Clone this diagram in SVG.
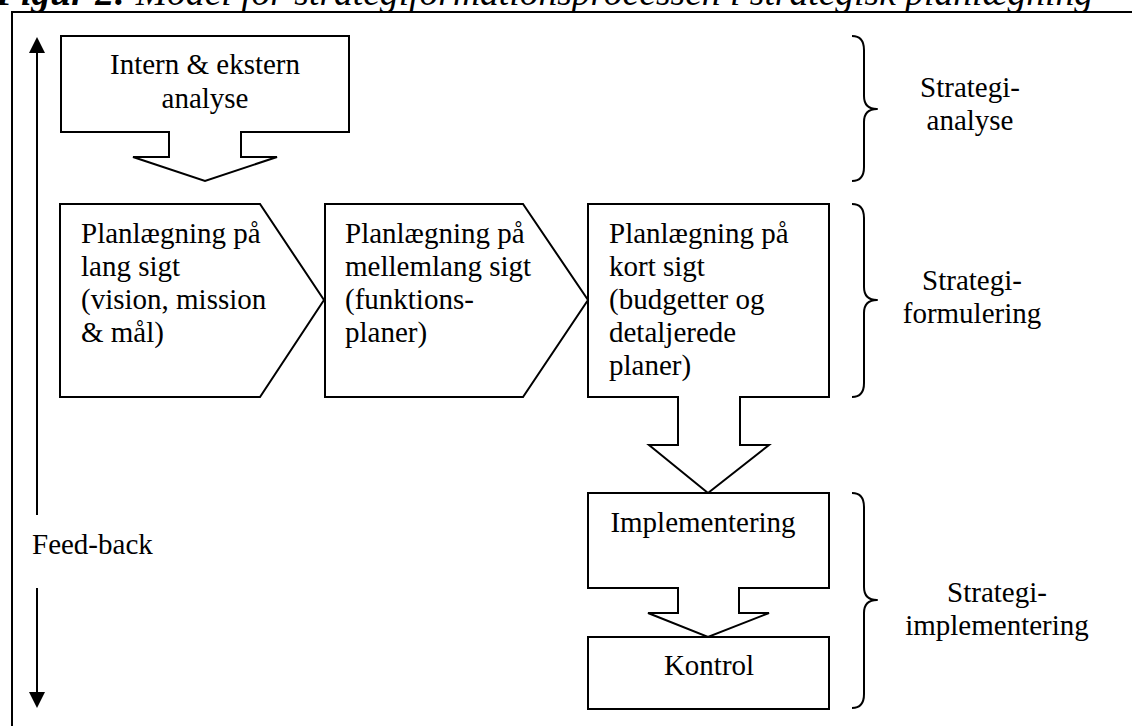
<svg xmlns="http://www.w3.org/2000/svg" width="1132" height="726" viewBox="0 0 1132 726">
  <style>
    .shape { fill: #ffffff; stroke: #000000; stroke-width: 2; stroke-linejoin: miter; }
    .line { fill: none; stroke: #000000; stroke-width: 2; }
    .brace { fill: none; stroke: #000000; stroke-width: 2; stroke-linejoin: round; }
    .head { fill: #000000; stroke: none; }
    text { font-family: 'Liberation Serif', 'DejaVu Serif', serif; fill: #000000; }
    .t { font-size: 29px; }
    .mid { text-anchor: middle; }
    .title { font-size: 37px; font-style: italic; }
  </style>
  <rect x="0" y="0" width="1132" height="726" fill="#ffffff"/>

  <!-- caption, clipped by the top edge -->
  <text class="title" x="-4" y="5" textLength="1097" lengthAdjust="spacingAndGlyphs"><tspan font-weight="bold">Figur 2:</tspan> Model for strategiformationsprocessen i strategisk planlægning</text>

  <!-- frame -->
  <path class="line" d="M12,727 L12,12 L1133,12"/>

  <!-- feedback arrows -->
  <g id="feedback">
    <line class="line" x1="37" y1="515" x2="37" y2="50"/>
    <polygon class="head" points="37,37 45,53 29,53"/>
    <text class="t" x="32" y="554">Feed-back</text>
    <line class="line" x1="37" y1="588" x2="37" y2="696"/>
    <polygon class="head" points="37,708 45,692 29,692"/>
  </g>

  <g id="analyse">
    <polygon class="shape" points="61,36 349,36 349,132 241,132 241,157 277,157 205,181 133,157 169,157 169,132 61,132"/>
    <text class="t mid" x="205" y="74">Intern &amp; ekstern</text>
    <text class="t mid" x="205" y="108">analyse</text>
  </g>

  <g id="lang-sigt">
    <polygon class="shape" points="60,204 260,204 324,300 260,397 60,397"/>
    <text class="t" x="81" y="243">Planlægning på</text>
    <text class="t" x="81" y="276">lang sigt</text>
    <text class="t" x="81" y="309">(vision, mission</text>
    <text class="t" x="81" y="342">&amp; mål)</text>
  </g>

  <g id="mellemlang-sigt">
    <polygon class="shape" points="325,204 523,204 588,300 523,397 325,397"/>
    <text class="t" x="345" y="243">Planlægning på</text>
    <text class="t" x="345" y="276">mellemlang sigt</text>
    <text class="t" x="345" y="309">(funktions-</text>
    <text class="t" x="345" y="342">planer)</text>
  </g>

  <g id="kort-sigt">
    <polygon class="shape" points="588,204 829,204 829,397 740,397 740,445 769,445 708,493 649,445 678,445 678,397 588,397"/>
    <text class="t" x="609" y="243">Planlægning på</text>
    <text class="t" x="609" y="276">kort sigt</text>
    <text class="t" x="609" y="309">(budgetter og</text>
    <text class="t" x="609" y="342">detaljerede</text>
    <text class="t" x="609" y="375">planer)</text>
  </g>

  <g id="implementering">
    <polygon class="shape" points="588,493 829,493 829,588 739,588 739,613 769,613 708,637 648,613 678,613 678,588 588,588"/>
    <text class="t mid" x="703" y="532">Implementering</text>
  </g>

  <g id="kontrol">
    <rect class="shape" x="588" y="637" width="241" height="72"/>
    <text class="t mid" x="709" y="675">Kontrol</text>
  </g>

  <!-- phase braces and their labels -->
  <g id="fase-analyse">
    <path class="brace" d="M852,36 Q864,36 864,50 L864,96 Q864,109 877,109 Q864,109 864,122 L864,167 Q864,181 852,181"/>
    <text class="t mid" x="970" y="97">Strategi-</text>
    <text class="t mid" x="970" y="130">analyse</text>
  </g>
  <g id="fase-formulering">
    <path class="brace" d="M852,204 Q864,204 864,218 L864,287 Q864,300 877,300 Q864,300 864,313 L864,383 Q864,397 852,397"/>
    <text class="t mid" x="972" y="290">Strategi-</text>
    <text class="t mid" x="972" y="323">formulering</text>
  </g>
  <g id="fase-implementering">
    <path class="brace" d="M852,493 Q864,493 864,507 L864,587 Q864,600 877,600 Q864,600 864,613 L864,694 Q864,708 852,708"/>
    <text class="t mid" x="997" y="602">Strategi-</text>
    <text class="t mid" x="997" y="635">implementering</text>
  </g>
</svg>
